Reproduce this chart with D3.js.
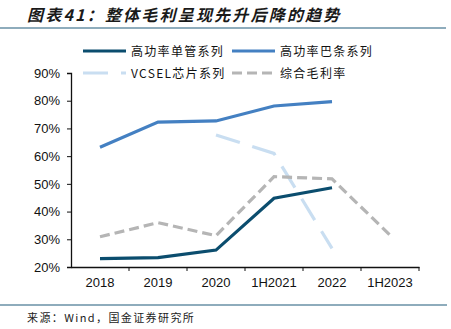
<!DOCTYPE html>
<html>
<head>
<meta charset="utf-8">
<script src="https://cdn.jsdelivr.net/npm/d3@7"></script>
<style>
  body { margin: 0; background: #fff; }
  svg { display: block; font-family: "Liberation Sans", Arial, sans-serif; }
  .cn { font-family: "Noto Sans CJK SC", sans-serif; }
</style>
</head>
<body>
<div id="chart"></div>
<script>
// Categories and series values (fraction)
const categories = ['2018', '2019', '2020', '1H2021', '2022', '1H2023'];
const singleTube = [0.23, 0.234, 0.261, 0.448, 0.486, null];
const barStrip = [0.632, 0.723, 0.727, 0.781, 0.797, null];
const vcsel = [null, null, 0.676, 0.61, 0.267, null];
const overall = [0.309, 0.36, 0.313, 0.526, 0.518, 0.315];
const yTicks = [0.2, 0.3, 0.4, 0.5, 0.6, 0.7, 0.8, 0.9];

const width = 451, height = 329;
const svg = d3.select('#chart').append('svg')
  .attr('width', width)
  .attr('height', height);

// Title and separators
svg.append('text')
  .attr('class', 'cn')
  .attr('x', 27).attr('y', 21)
  .attr('font-size', 16).attr('font-weight', 'bold').attr('font-style', 'italic')
  .attr('letter-spacing', 2.2)
  .attr('fill', '#1a1a1a')
  .text('图表41：整体毛利呈现先升后降的趋势');

svg.append('line')
  .attr('x1', 0).attr('x2', 446).attr('y1', 28).attr('y2', 28)
  .attr('stroke', '#1f5a7a').attr('stroke-width', 1.2);

svg.append('line')
  .attr('x1', 0).attr('x2', 447).attr('y1', 305).attr('y2', 305)
  .attr('stroke', '#1f5a7a').attr('stroke-width', 1.2);

svg.append('text')
  .attr('class', 'cn')
  .attr('x', 27).attr('y', 322)
  .attr('font-size', 11).attr('letter-spacing', 1.4)
  .attr('fill', '#222')
  .text('来源：Wind，国金证券研究所');

// Scales
const x = d3.scaleBand().domain(categories).range([71, 419]);
const y = d3.scaleLinear().domain([0.2, 0.9]).range([267, 73]);
const cx = d => x(d) + x.bandwidth() / 2;

// Axes
const yAxis = svg.append('g')
  .attr('transform', 'translate(71,0)')
  .call(d3.axisLeft(y).tickValues(yTicks).tickFormat(d3.format('.0%')).tickSizeOuter(0).tickSize(4).tickPadding(7));
yAxis.selectAll('text').attr('font-size', 13).attr('fill', '#111').attr('font-family', '"Liberation Sans", Arial, sans-serif');
yAxis.select('.domain').attr('stroke', '#111').attr('stroke-width', 1.3);
yAxis.selectAll('.tick line').attr('stroke', '#111');

const xAxis = svg.append('g')
  .attr('transform', 'translate(0,267)')
  .call(d3.axisBottom(x).tickSize(0).tickSizeOuter(0).tickPadding(11));
xAxis.selectAll('text').attr('font-size', 13).attr('fill', '#111').attr('font-family', '"Liberation Sans", Arial, sans-serif');
xAxis.select('.domain').attr('stroke', '#111').attr('stroke-width', 1.3);

// Ticks between categories
xAxis.selectAll('.sep')
  .data(categories)
  .enter().append('line')
  .attr('class', 'sep')
  .attr('x1', d => x(d) + x.bandwidth()).attr('x2', d => x(d) + x.bandwidth())
  .attr('y1', 0).attr('y2', 4)
  .attr('stroke', '#111');

// Series
const series = [
  { name: '高功率单管系列', values: singleTube, color: '#0b4d6e', dash: null },
  { name: '高功率巴条系列', values: barStrip, color: '#4480c2', dash: null },
  { name: 'VCSEL芯片系列', values: vcsel, color: '#c9def1', dash: '25,13' },
  { name: '综合毛利率', values: overall, color: '#b5b5b5', dash: '10,5' }
];

const line = d3.line()
  .defined(d => d.v !== null)
  .x(d => cx(d.c))
  .y(d => y(d.v));

svg.append('g').selectAll('path')
  .data(series)
  .enter().append('path')
  .attr('d', s => line(s.values.map((v, i) => ({ c: categories[i], v: v }))))
  .attr('fill', 'none')
  .attr('stroke', s => s.color)
  .attr('stroke-width', 3.2)
  .attr('stroke-dasharray', s => s.dash);

// Legend
const legendPos = [[83, 51], [232, 51], [83, 73], [232, 73]];
const legend = svg.append('g').selectAll('g')
  .data(series)
  .enter().append('g')
  .attr('transform', (s, i) => `translate(${legendPos[i][0]},${legendPos[i][1]})`);

legend.append('line')
  .attr('x1', 0).attr('x2', 43)
  .attr('stroke', s => s.color)
  .attr('stroke-width', 3.2)
  .attr('stroke-dasharray', s => s.dash);

legend.append('text')
  .attr('class', 'cn')
  .attr('x', 48).attr('y', 4.5)
  .attr('font-size', 12).attr('letter-spacing', 1.3)
  .attr('fill', '#111')
  .text(s => s.name);
</script>
</body>
</html>
